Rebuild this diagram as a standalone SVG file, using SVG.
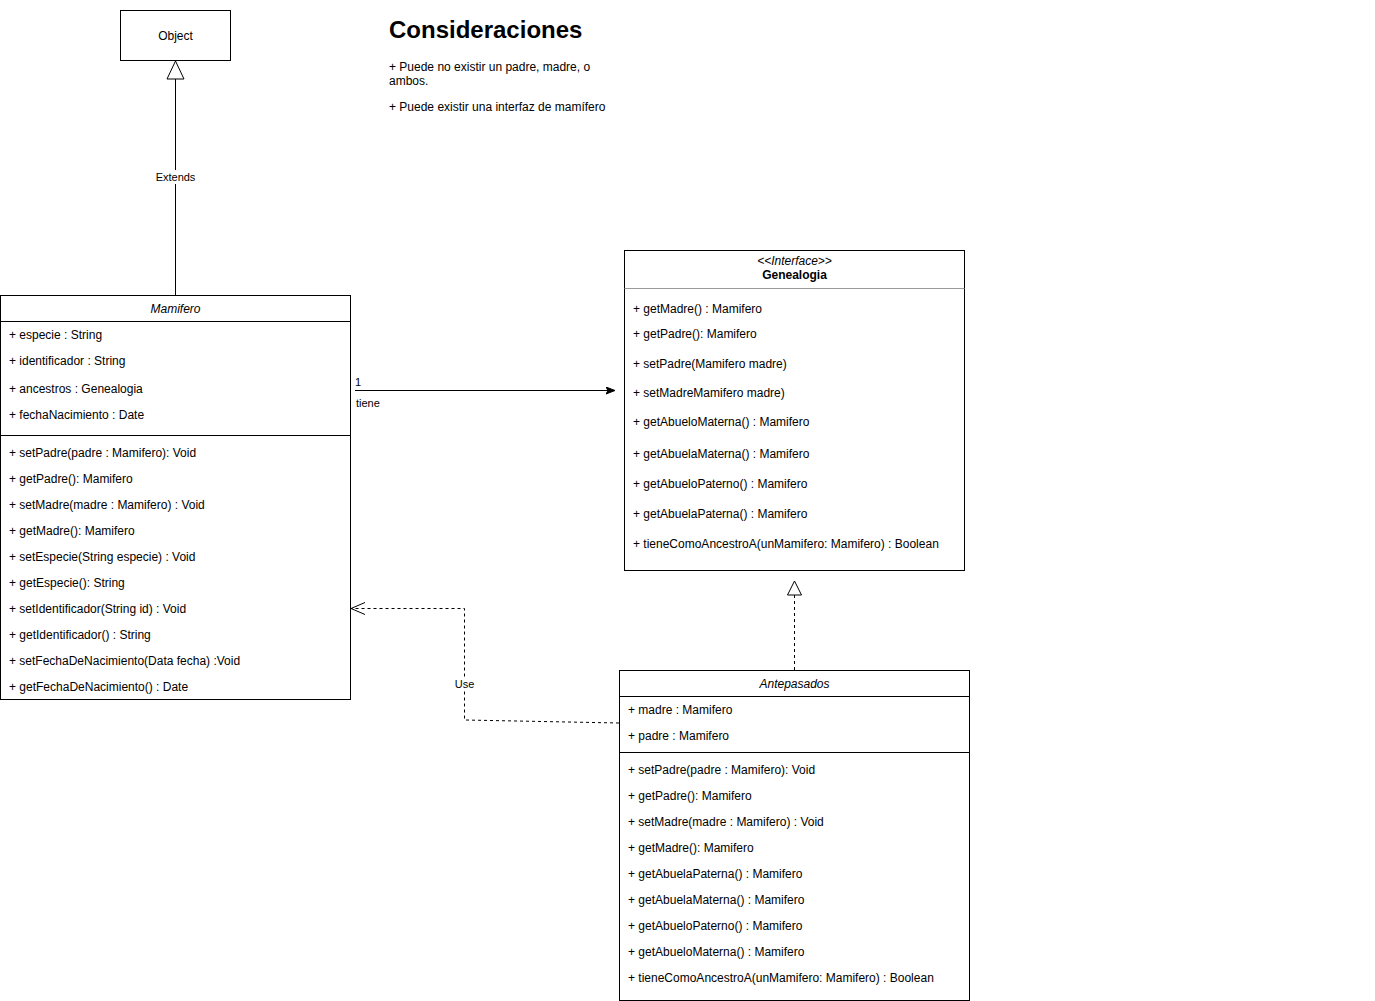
<svg xmlns="http://www.w3.org/2000/svg" width="1375" height="1001" viewBox="0 0 1375 1001">
<style>
text{font-family:"Liberation Sans",Arial,Helvetica,sans-serif;font-size:12px;fill:#000}
.box{fill:#fff;stroke:#000;stroke-width:1}
.div{stroke:#000;stroke-width:1}
.it{font-style:italic}
.c{text-anchor:middle}
.b{font-weight:bold}
.lbl{font-size:11px}
.ln{fill:none;stroke:#000;stroke-width:1}
.dash{stroke-dasharray:3 3}
</style>
<defs>
<marker id="filled" markerWidth="10" markerHeight="8" refX="9" refY="4" orient="auto" markerUnits="userSpaceOnUse">
<path d="M0,0.5 L9,4 L0,7.5 L2,4 Z" fill="#000" stroke="#000" stroke-width="1"/>
</marker>
<marker id="open" markerWidth="16" markerHeight="14" refX="15" refY="7" orient="auto" markerUnits="userSpaceOnUse">
<path d="M1,1 L15,7 L1,13" fill="none" stroke="#000" stroke-width="1"/>
</marker>
</defs>
<rect width="1375" height="1001" fill="#fff"/>

<g id="connectors">
<g id="extends">
<line class="ln" x1="175.5" y1="295" x2="175.5" y2="79"/>
<path d="M175.5,61 L167,79 L184,79 Z" fill="#fff" stroke="#000"/>
<rect x="154" y="170" width="43" height="14" fill="#fff"/>
<text class="c lbl" x="175.5" y="181">Extends</text>
</g>
<g id="tiene">
<line class="ln" x1="355" y1="390.5" x2="615" y2="390.5" marker-end="url(#filled)"/>
<text class="lbl" x="355" y="386">1</text>
<text class="lbl" x="356" y="407">tiene</text>
</g>
<g id="realiza">
<line class="ln dash" x1="794.5" y1="670" x2="794.5" y2="595"/>
<path d="M794.5,581 L787.5,595 L801.5,595 Z" fill="#fff" stroke="#000"/>
</g>
<g id="use">
<polyline class="ln dash" points="619,723 464.5,720 464.5,608.5 351,608.5" marker-end="url(#open)"/>
<rect x="453" y="677" width="23" height="14" fill="#fff"/>
<text class="c lbl" x="464.5" y="688">Use</text>
</g>
</g>

<g id="object">
<rect class="box" x="120.5" y="10.5" width="110" height="50"/>
<text class="c" x="175.5" y="40">Object</text>
</g>

<g id="consideraciones">
<text x="389" y="38" style="font-size:24px;font-weight:bold">Consideraciones</text>
<text x="389" y="71">+ Puede no existir un padre, madre, o</text>
<text x="389" y="85">ambos.</text>
<text x="389" y="111">+ Puede existir una interfaz de mamífero</text>
</g>

<g id="mamifero">
<rect class="box" x="0.5" y="295.5" width="350" height="404"/>
<line class="div" x1="0.5" y1="321.5" x2="350.5" y2="321.5"/>
<line class="div" x1="0.5" y1="435.5" x2="350.5" y2="435.5"/>
<text class="c it" x="175.5" y="313">Mamifero</text>
<text x="9" y="339">+ especie : String</text>
<text x="9" y="365">+ identificador : String</text>
<text x="9" y="393">+ ancestros : Genealogia</text>
<text x="9" y="419">+ fechaNacimiento : Date</text>
<text x="9" y="457">+ setPadre(padre : Mamifero): Void</text>
<text x="9" y="483">+ getPadre(): Mamifero</text>
<text x="9" y="509">+ setMadre(madre : Mamifero) : Void</text>
<text x="9" y="535">+ getMadre(): Mamifero</text>
<text x="9" y="561">+ setEspecie(String especie) : Void</text>
<text x="9" y="587">+ getEspecie(): String</text>
<text x="9" y="613">+ setIdentificador(String id) : Void</text>
<text x="9" y="639">+ getIdentificador() : String</text>
<text x="9" y="665">+ setFechaDeNacimiento(Data fecha) :Void</text>
<text x="9" y="691">+ getFechaDeNacimiento() : Date</text>
</g>

<g id="genealogia">
<rect class="box" x="624.5" y="250.5" width="340" height="320"/>
<line x1="624.5" y1="288.5" x2="964.5" y2="288.5" stroke="#999"/>
<text class="c it" x="794.5" y="265">&lt;&lt;Interface&gt;&gt;</text>
<text class="c b" x="794.5" y="279">Genealogia</text>
<text x="633" y="313">+ getMadre() : Mamifero</text>
<text x="633" y="338">+ getPadre(): Mamifero</text>
<text x="633" y="368">+ setPadre(Mamifero madre)</text>
<text x="633" y="397">+ setMadreMamifero madre)</text>
<text x="633" y="426">+ getAbueloMaterna() : Mamifero</text>
<text x="633" y="458">+ getAbuelaMaterna() : Mamifero</text>
<text x="633" y="488">+ getAbueloPaterno() : Mamifero</text>
<text x="633" y="518">+ getAbuelaPaterna() : Mamifero</text>
<text x="633" y="548">+ tieneComoAncestroA(unMamifero: Mamifero) : Boolean</text>
</g>

<g id="antepasados">
<rect class="box" x="619.5" y="670.5" width="350" height="330"/>
<line class="div" x1="619.5" y1="696.5" x2="969.5" y2="696.5"/>
<line class="div" x1="619.5" y1="752.5" x2="969.5" y2="752.5"/>
<text class="c it" x="794.5" y="688">Antepasados</text>
<text x="628" y="714">+ madre : Mamifero</text>
<text x="628" y="740">+ padre : Mamifero</text>
<text x="628" y="774">+ setPadre(padre : Mamifero): Void</text>
<text x="628" y="800">+ getPadre(): Mamifero</text>
<text x="628" y="826">+ setMadre(madre : Mamifero) : Void</text>
<text x="628" y="852">+ getMadre(): Mamifero</text>
<text x="628" y="878">+ getAbuelaPaterna() : Mamifero</text>
<text x="628" y="904">+ getAbuelaMaterna() : Mamifero</text>
<text x="628" y="930">+ getAbueloPaterno() : Mamifero</text>
<text x="628" y="956">+ getAbueloMaterna() : Mamifero</text>
<text x="628" y="982">+ tieneComoAncestroA(unMamifero: Mamifero) : Boolean</text>
</g>
</svg>
